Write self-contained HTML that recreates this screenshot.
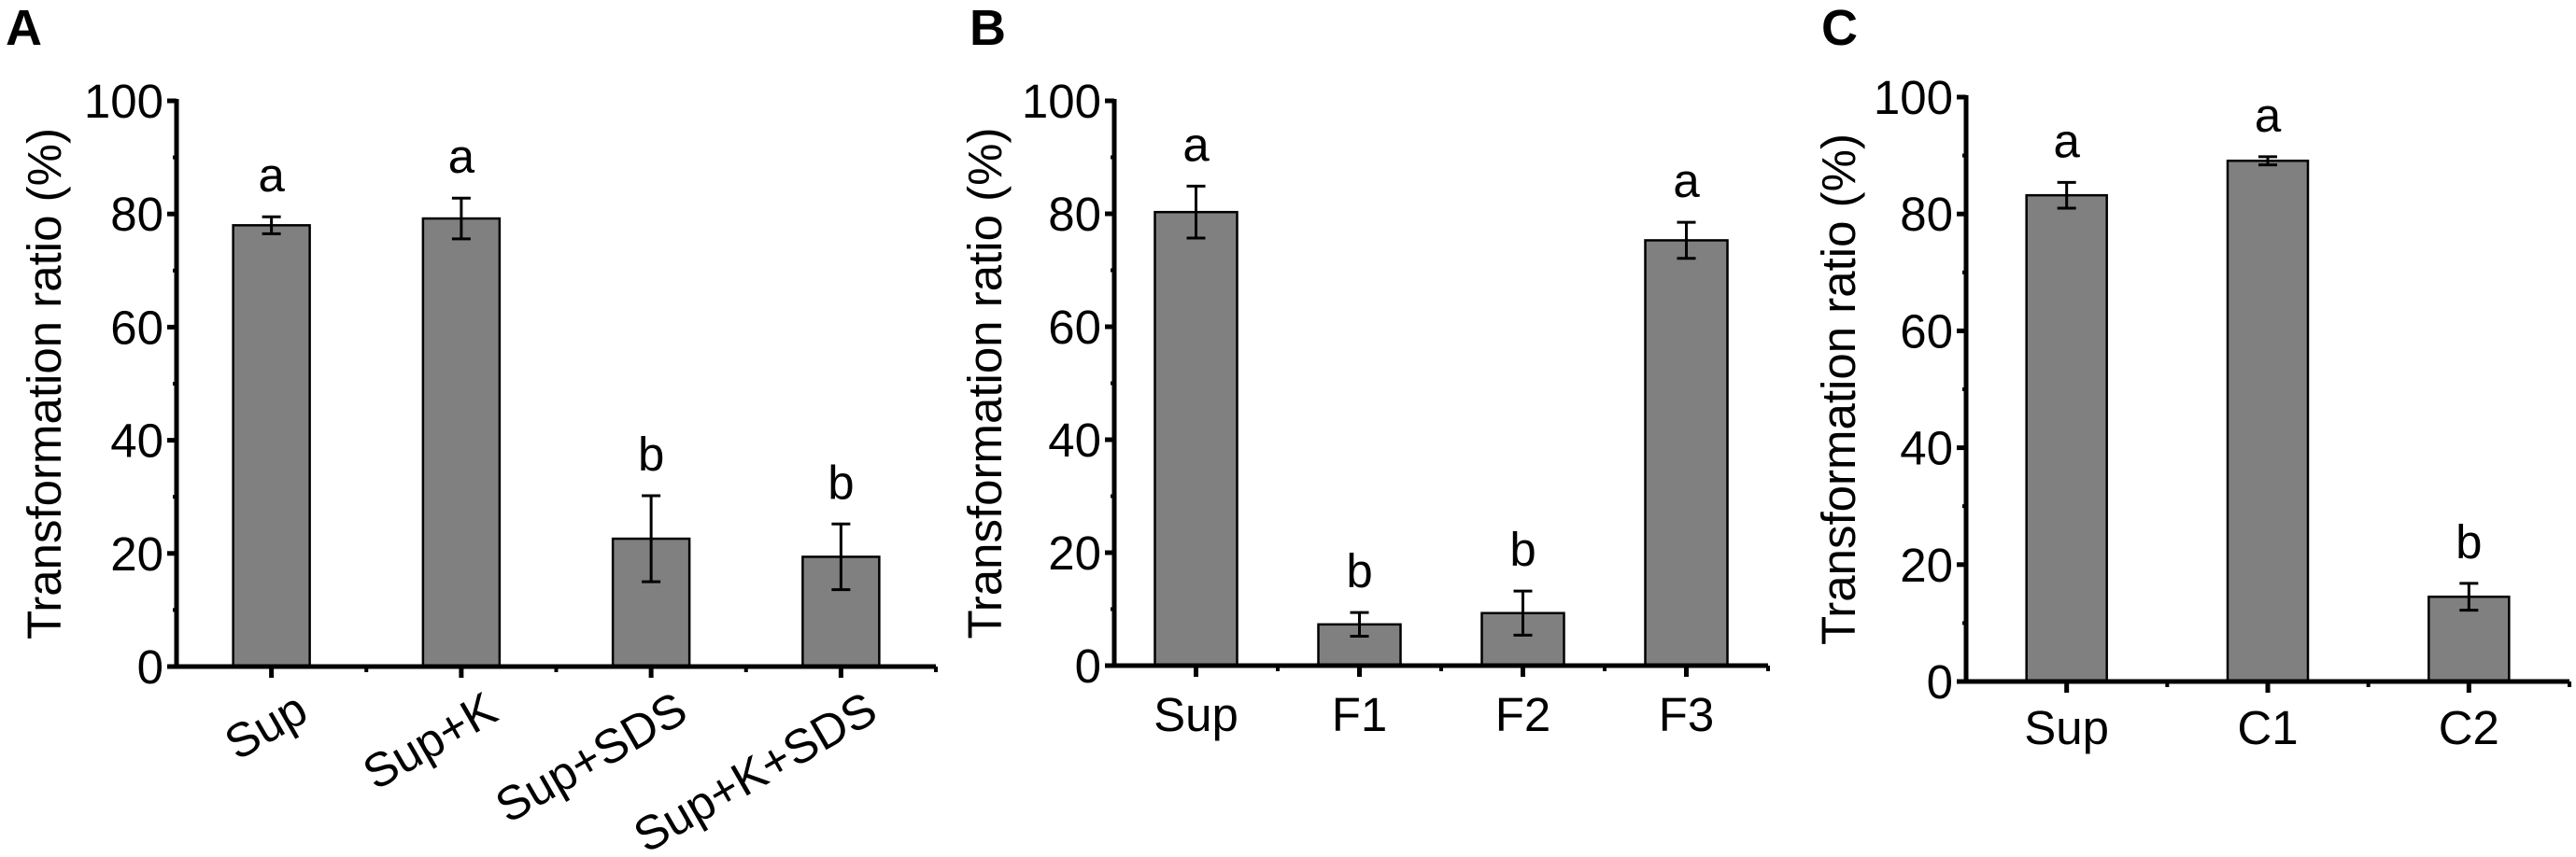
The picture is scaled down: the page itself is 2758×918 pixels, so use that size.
<!DOCTYPE html>
<html><head><meta charset="utf-8"><style>
html,body{margin:0;padding:0;background:#fff;}
svg{display:block;font-family:"Liberation Sans",Arial,sans-serif;}
</style></head><body>
<svg id="fig" width="2758" height="918" viewBox="0 0 2758 918" xmlns="http://www.w3.org/2000/svg">
<text x="6" y="48" font-size="54" font-weight="bold">A</text>
<text x="1038" y="48" font-size="54" font-weight="bold">B</text>
<text x="1950" y="48" font-size="54" font-weight="bold">C</text>
</svg>
<script>
const catsA = ["Sup","Sup+K","Sup+SDS","Sup+K+SDS"];
const valsA = [78, 79.2, 22.6, 19.4];
const errsA = [1.5, 3.6, 7.6, 5.8];
const lettersA = ["a","a","b","b"];
const catsB = ["Sup","F1","F2","F3"];
const valsB = [80.3, 7.3, 9.3, 75.3];
const errsB = [4.6, 2.1, 3.9, 3.2];
const lettersB = ["a","b","b","a"];
const catsC = ["Sup","C1","C2"];
const valsC = [83.2, 89.1, 14.5];
const errsC = [2.2, 0.7, 2.3];
const lettersC = ["a","a","b"];
const yTicks = [0,20,40,60,80,100];

const NS="http://www.w3.org/2000/svg";
const svg=document.getElementById('fig');
function mk(tag,attrs,parent){const e=document.createElementNS(NS,tag);for(const k in attrs)e.setAttribute(k,attrs[k]);(parent||svg).appendChild(e);return e;}

function panel(id,cfg,cats,vals,errs,letters){
  const g=mk('g',{});
  
  
  const {x0,x1,y0,y100,barW,titleX,rotLabels,labelY}=cfg;
  const y=v=>y0-(v/100)*(y0-y100);
  const step=(x1-x0)/cats.length;
  const xc=i=>x0+step*(i+0.5);
  // bars
  cats.forEach((c,i)=>{
    const r=mk('rect',{x:xc(i)-barW/2,y:y(vals[i]),width:barW,height:y0-y(vals[i]),fill:'#808080',stroke:'#000','stroke-width':2.5},g);
    
    
    const eg=mk('g',{stroke:'#000','stroke-width':3},g);
    
    
    const t=y(vals[i]+errs[i]),b=y(vals[i]-errs[i]);
    mk('line',{x1:xc(i),x2:xc(i),y1:t,y2:b},eg);
    mk('line',{x1:xc(i)-10,x2:xc(i)+10,y1:t,y2:t},eg);
    mk('line',{x1:xc(i)-10,x2:xc(i)+10,y1:b,y2:b},eg);
    const lt=mk('text',{x:xc(i),y:t-27,'font-size':51,'text-anchor':'middle'},g);
    lt.textContent=letters[i];
    
    
    let tl;
    if(rotLabels){
      const ax=xc(i)+42, ay=labelY;
      tl=mk('text',{x:ax,y:ay,'font-size':51,'text-anchor':'end',transform:`rotate(-30 ${ax} ${ay})`},g);
    } else {
      tl=mk('text',{x:xc(i),y:labelY,'font-size':51,'text-anchor':'middle'},g);
    }
    tl.textContent=c;
    
    
    mk('line',{x1:xc(i),x2:xc(i),y1:y0,y2:y0+12,stroke:'#000','stroke-width':5},g);
    mk('line',{x1:x0+step*(i+1),x2:x0+step*(i+1),y1:y0,y2:y0+6,stroke:'#000','stroke-width':4},g);
  });
  // axes
  const ya=mk('line',{x1:x0,x2:x0,y1:y100-2,y2:y0+2,stroke:'#000','stroke-width':5},g);
  
  
  const xa=mk('line',{x1:x0-8,x2:x1,y1:y0,y2:y0,stroke:'#000','stroke-width':5},g);
  
  
  yTicks.forEach(v=>{
    mk('line',{x1:x0-10,x2:x0,y1:y(v),y2:y(v),stroke:'#000','stroke-width':5},g);
    if(v<100) mk('line',{x1:x0-4,x2:x0,y1:y(v+10),y2:y(v+10),stroke:'#000','stroke-width':4},g);
    const tt=mk('text',{x:x0-14,y:y(v)+18,'font-size':51,'text-anchor':'end'},g);
    tt.textContent=String(v);
    
    
  });
  const ty=(y0+y100)/2;
  const yt=mk('text',{x:titleX,y:ty,'font-size':51,'text-anchor':'middle',transform:`rotate(-90 ${titleX} ${ty})`},g);
  yt.textContent='Transformation ratio (%)';
  
  
}
panel('a',{x0:189,x1:1002,y0:714,y100:108,barW:82,titleX:65,rotLabels:true,labelY:770},catsA,valsA,errsA,lettersA);
panel('b',{x0:1193,x1:1893,y0:713,y100:108,barW:88,titleX:1072,rotLabels:false,labelY:783},catsB,valsB,errsB,lettersB);
panel('c',{x0:2105,x1:2751,y0:730,y100:104,barW:86,titleX:1986,rotLabels:false,labelY:797},catsC,valsC,errsC,lettersC);
</script>
</body></html>
